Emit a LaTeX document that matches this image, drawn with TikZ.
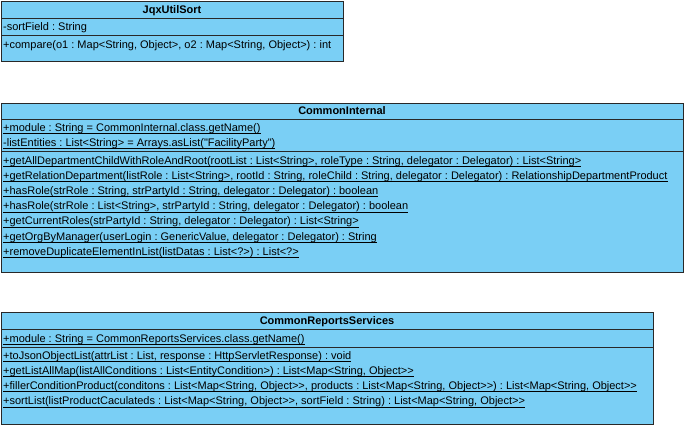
\documentclass[tikz,border=0pt]{standalone}
\usepackage{fontspec}
\setmainfont{Liberation Sans}[Ligatures=TeXOff]
\frenchspacing
\definecolor{umlblue}{RGB}{122,207,245}
\definecolor{umlline}{RGB}{40,40,40}
\newcommand{\stat}[1]{\setbox0\hbox{#1}\rlap{\rule[-2.6pt]{\wd0}{0.7pt}}\box0}
\tikzset{
  classbox/.style={draw=umlline, fill=umlblue, line width=0.8pt},
  classline/.style={draw=umlline, line width=0.8pt},
  classname/.style={anchor=base, inner sep=0pt, font=\fontsize{11}{13}\selectfont\bfseries},
  member/.style={anchor=base west, inner sep=0pt, font=\fontsize{11}{13}\selectfont},
}
\begin{document}
\begin{tikzpicture}[x=1pt,y=-1pt]
  \useasboundingbox (0,0) rectangle (686,426);
  %%%%%%%%%%%%%JqxUtilSort%%%%%%%%%%%%%%%%%%%%%%
  \draw[classbox] (1,1) rectangle (343,61);
  \draw[classline] (1,18) -- (343,18);
  \draw[classline] (1,35) -- (343,35);

  \node[classname] (jqxname) at (172,13) {JqxUtilSort};
  \node[member] (sortfield) at (3,30) {-sortField : String};
  \node[member] (compare) at (3,48) {+compare(o1 : Map<String, Object>, o2 : Map<String, Object>) : int};

  %%%%%%%%%%%%%CommonInternal%%%%%%%%%%%%%%%%%%%%%%
  \draw[classbox] (1,103) rectangle (683,272);
  \draw[classline] (1,119) -- (683,119);
  \draw[classline] (1,151) -- (683,151);

  \node[classname] (internalname) at (342,114) {CommonInternal};
  \node[member] (intmodule) at (3,131) {\stat{+module : String = CommonInternal.class.getName()}};
  \node[member] (listentities) at (3,146) {\stat{-listEntities : List<String> = Arrays.asList("FacilityParty")}};
  \node[member] (getalldept) at (3,164) {\stat{+getAllDepartmentChildWithRoleAndRoot(rootList : List<String>, roleType : String, delegator : Delegator) : List<String>}};
  \node[member] (getreldept) at (3,179.2) {\stat{+getRelationDepartment(listRole : List<String>, rootId : String, roleChild : String, delegator : Delegator) : RelationshipDepartmentProduct}};
  \node[member] (hasrolea) at (3,194.4) {\stat{+hasRole(strRole : String, strPartyId : String, delegator : Delegator) : boolean}};
  \node[member] (hasroleb) at (3,209.6) {\stat{+hasRole(strRole : List<String>, strPartyId : String, delegator : Delegator) : boolean}};
  \node[member] (currentroles) at (3,224.8) {\stat{+getCurrentRoles(strPartyId : String, delegator : Delegator) : List<String>}};
  \node[member] (orgbymanager) at (3,240) {\stat{+getOrgByManager(userLogin : GenericValue, delegator : Delegator) : String}};
  \node[member] (removedup) at (3,255.2) {\stat{+removeDuplicateElementInList(listDatas : List<?>) : List<?>}};

  %%%%%%%%%%%%%CommonReportsServices%%%%%%%%%%%%%%%%%%%%%%
  \draw[classbox] (1,312) rectangle (653,424);
  \draw[classline] (1,329) -- (653,329);
  \draw[classline] (1,347) -- (653,347);

  \node[classname] (reportsname) at (327,324) {CommonReportsServices};
  \node[member] (repmodule) at (3,342) {\stat{+module : String = CommonReportsServices.class.getName()}};
  \node[member] (tojson) at (3,359) {\stat{+toJsonObjectList(attrList : List, response : HttpServletResponse) : void}};
  \node[member] (listallmap) at (3,374.2) {\stat{+getListAllMap(listAllConditions : List<EntityCondition>) : List<Map<String, Object>>}};
  \node[member] (fillercond) at (3,389.4) {\stat{+fillerConditionProduct(conditons : List<Map<String, Object>>, products : List<Map<String, Object>>) : List<Map<String, Object>>}};
  \node[member] (sortlist) at (3,404.6) {\stat{+sortList(listProductCaculateds : List<Map<String, Object>>, sortField : String) : List<Map<String, Object>>}};
\end{tikzpicture}
\end{document}
